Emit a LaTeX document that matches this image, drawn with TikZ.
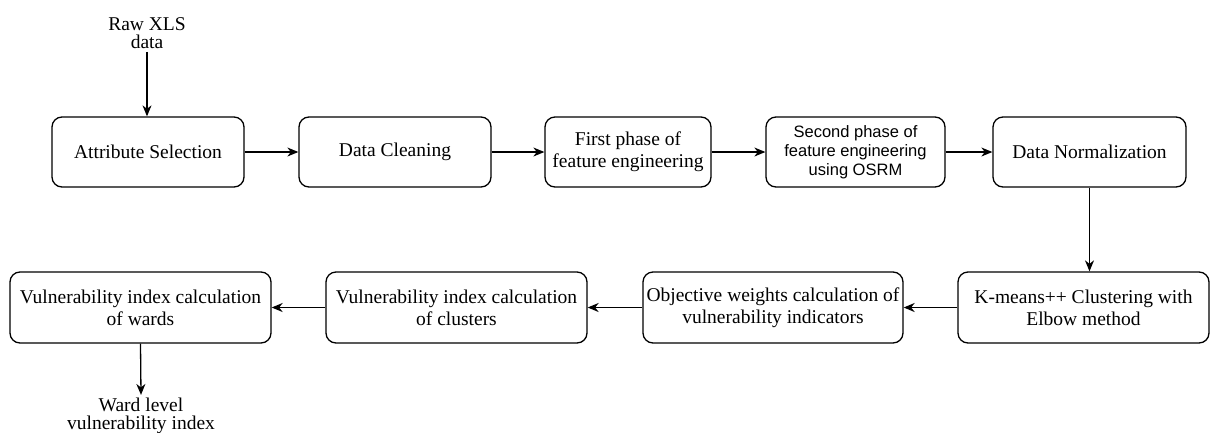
\documentclass[tikz,border=0pt]{standalone}
\usepackage{fontspec}
\setmainfont{Liberation Serif}
\newfontfamily\helv{Liberation Sans}
\usetikzlibrary{arrows.meta}
\begin{document}
\begin{tikzpicture}[x=1pt,y=-1pt,
  stage/.style={draw, line width=1.3pt, rounded corners=10pt, align=center,
    inner sep=0pt, font=\fontsize{19.5}{22}\selectfont},
  flow/.style={line width=1.3pt, -{Stealth[length=11pt,width=9pt,inset=3.5pt]}},
  label/.style={align=center, inner sep=3pt, font=\fontsize{19.5}{18}\selectfont}]
\useasboundingbox (0,0) rectangle (1211,432);
\fill[white] (0,0) rectangle (1211,432);

% input and output labels
\node[label] (raw) at (147,33) {Raw XLS\\data};
\node[label] (ward) at (141,416) {Ward level\\vulnerability index};

% first row of processing stages
\node[stage, minimum width=192, minimum height=70] (attr) at (148,152) {Attribute Selection};
\node[stage, minimum width=192, minimum height=70] (clean) at (395,152) {Data Cleaning};
\node[stage, minimum width=166, minimum height=70] (fe1) at (628,152) {First phase of\\feature engineering};
\node[stage, minimum width=179, minimum height=70,
  font=\helv\fontsize{16.5}{19}\selectfont] (fe2) at (855.5,152) {Second phase of\\feature engineering\\using OSRM};
\node[stage, minimum width=193, minimum height=70] (norm) at (1089.5,152) {Data Normalization};

% second row, running right to left
\node[stage, minimum width=251, minimum height=71] (kmeans) at (1083.5,307.5) {K-means++ Clustering with\\Elbow method};
\node[stage, minimum width=260, minimum height=71] (objw) at (773,307.5) {Objective weights calculation of\\vulnerability indicators};
\node[stage, minimum width=261, minimum height=71] (vclu) at (456.5,307.5) {Vulnerability index calculation\\of clusters};
\node[stage, minimum width=261, minimum height=71] (vward) at (140.5,307.5) {Vulnerability index calculation\\of wards};

% connectors
\draw[flow] (raw.south) -- (raw.south |- attr.north);
\draw[flow] (attr) -- (clean);
\draw[flow] (clean) -- (fe1);
\draw[flow] (fe1) -- (fe2);
\draw[flow] (fe2) -- (norm);
\draw[flow] (norm.south) -- (norm.south |- kmeans.north);
\draw[flow] (kmeans) -- (objw);
\draw[flow] (objw) -- (vclu);
\draw[flow] (vclu) -- (vward);
\draw[flow] (vward.south) -- (ward.north);
\end{tikzpicture}
\end{document}
